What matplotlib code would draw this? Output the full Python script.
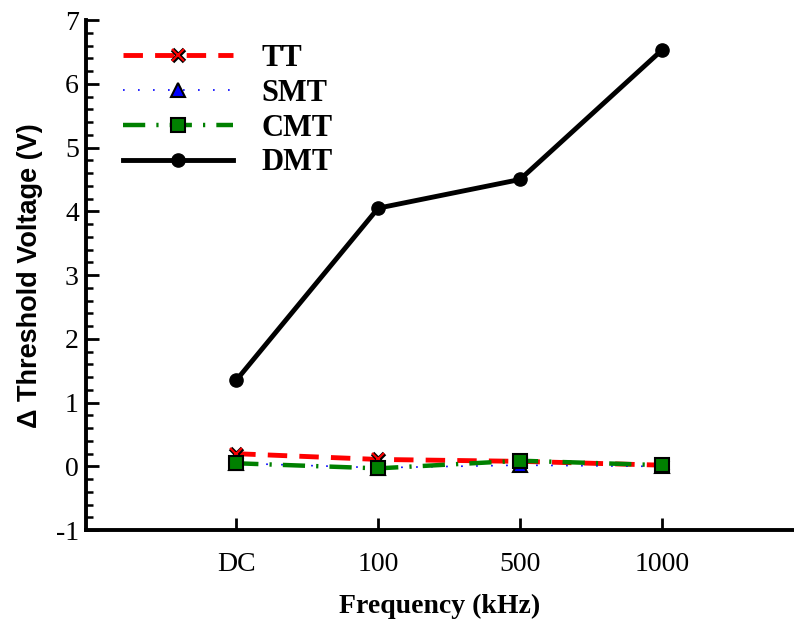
import numpy as np
import matplotlib.pyplot as plt
from matplotlib.ticker import MultipleLocator

plt.rcParams['font.family'] = ['Liberation Serif', 'DejaVu Serif']
plt.rcParams['axes.unicode_minus'] = False

freqs = ["DC", "100", "500", "1000"]
tt = [0.20, 0.11, 0.08, 0.02]
smt = [0.05, -0.02, 0.02, 0.00]
cmt = [0.05, -0.03, 0.09, 0.02]
dmt = [1.35, 4.05, 4.50, 6.53]

x = np.arange(len(freqs))

fig = plt.figure(figsize=(7.94, 6.26), dpi=100)
ax = fig.add_axes([0.108, 0.153, 0.892, 0.815])

# TT: red x marker with a black outline
tt_line, = ax.plot(x, tt, color="red", ls=(0, (4, 2.5)), lw=3.5, marker="x",
                   ms=9, mew=3.5, mec="black")
tt_mark, = ax.plot(x, tt, ls="none", marker="x", ms=8, mew=1.5, mec="red")
smt_line, = ax.plot(x, smt, color="blue", ls=(0, (1, 8)), lw=1.2, marker="^",
                    ms=10, mfc="blue", mec="black", mew=1.5)
cmt_line, = ax.plot(x, cmt, color="green", ls=(0, (5, 2.5, 0.5, 2.5)), lw=3.2,
                    marker="s", ms=9.5, mfc="green", mec="black", mew=1.5)
dmt_line, = ax.plot(x, dmt, color="black", ls="-", lw=3.5, marker="o", ms=9.5)

ax.set_xlim(-1.06, 3.93)
ax.set_ylim(-1, 7)
ax.set_xticks(x)
ax.set_xticklabels(freqs)
ax.yaxis.set_major_locator(MultipleLocator(1))
ax.yaxis.set_minor_locator(MultipleLocator(0.2))

for s in ["top", "right"]:
    ax.spines[s].set_visible(False)
for s in ["left", "bottom"]:
    ax.spines[s].set_linewidth(2.8)
ax.tick_params(axis="both", which="major", direction="in", width=2, length=9,
               labelsize=20)
ax.tick_params(axis="y", which="minor", direction="in", width=1.8, length=5)
ax.tick_params(axis="y", pad=5)
ax.tick_params(axis="x", pad=16)

ax.set_xlabel("Frequency (kHz)", fontsize=20, fontweight="bold", labelpad=12)
ax.set_ylabel("\u0394 Threshold Voltage (V)", fontsize=19.5, fontweight="bold",
              family="Liberation Sans", labelpad=9)

ax.legend([(tt_line, tt_mark), smt_line, cmt_line, dmt_line],
          ["TT", "SMT", "CMT", "DMT"], loc="upper left", frameon=False,
          prop={"weight": "bold", "size": 22}, handlelength=3.6,
          handletextpad=0.95, labelspacing=0.19, borderpad=0, borderaxespad=0,
          bbox_to_anchor=(0.052, 0.953))

plt.savefig("out.png", dpi=100)
